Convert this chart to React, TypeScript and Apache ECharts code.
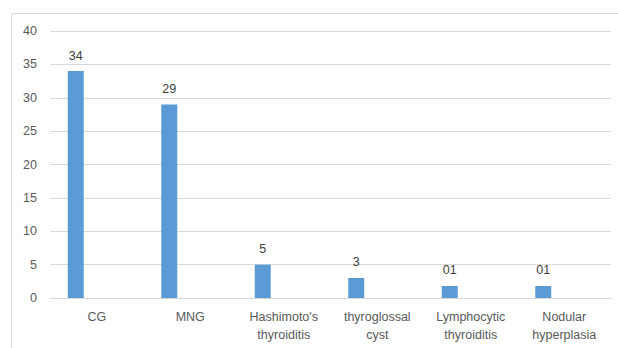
import React, { useEffect, useRef } from "react";
import * as echarts from "echarts";

const categories = [
  "CG",
  "MNG",
  "Hashimoto's\nthyroiditis",
  "thyroglossal\ncyst",
  "Lymphocytic\nthyroiditis",
  "Nodular\nhyperplasia",
];
const values = [34, 29, 5, 3, 1.8, 1.8];
const valueLabels = ["34", "29", "5", "3", "01", "01"];
const emptySeries = ["-", "-", "-", "-", "-", "-"];

const FONT = '"Liberation Sans", Arial, sans-serif';

export default function App() {
  const ref = useRef<HTMLDivElement>(null);
  useEffect(() => {
    document.body.style.margin = "0";
    const chart = echarts.init(ref.current!, null, { renderer: "svg" });
    chart.setOption({
      animation: false,
      backgroundColor: "#ffffff",
      textStyle: { fontFamily: FONT },
      graphic: [
        {
          type: "rect",
          shape: { x: 11.5, y: 13.5, width: 700, height: 400 },
          style: { fill: "none", stroke: "#d9d9d9", lineWidth: 1 },
          silent: true,
        },
      ],
      grid: { left: 50, right: 7, top: 31, bottom: 50, containLabel: false },
      xAxis: {
        type: "category",
        data: categories,
        axisLine: { show: true, lineStyle: { color: "#d9d9d9", width: 1 } },
        axisTick: { show: false },
        axisLabel: {
          color: "#595959",
          fontSize: 12.5,
          fontFamily: FONT,
          lineHeight: 18,
          margin: 10,
          interval: 0,
        },
      },
      yAxis: {
        type: "value",
        min: 0,
        max: 40,
        interval: 5,
        axisLine: { show: false },
        axisTick: { show: false },
        splitLine: { lineStyle: { color: "#d9d9d9", width: 1 } },
        axisLabel: { color: "#595959", fontSize: 12.5, fontFamily: FONT, margin: 13 },
      },
      series: [
        {
          type: "bar",
          data: values,
          barWidth: 16,
          barGap: "162.5%",
          itemStyle: { color: "#5b9bd5" },
          label: {
            show: true,
            position: "top",
            distance: 9,
            color: "#404040",
            fontSize: 12.5,
            fontFamily: FONT,
            formatter: (p: any) => valueLabels[p.dataIndex],
          },
        },
        {
          type: "bar",
          data: emptySeries,
          barWidth: 16,
          itemStyle: { color: "#ed7d31" },
        },
      ],
    });
    return () => chart.dispose();
  }, []);
  return <div ref={ref} style={{ width: 618, height: 348 }} />;
}
